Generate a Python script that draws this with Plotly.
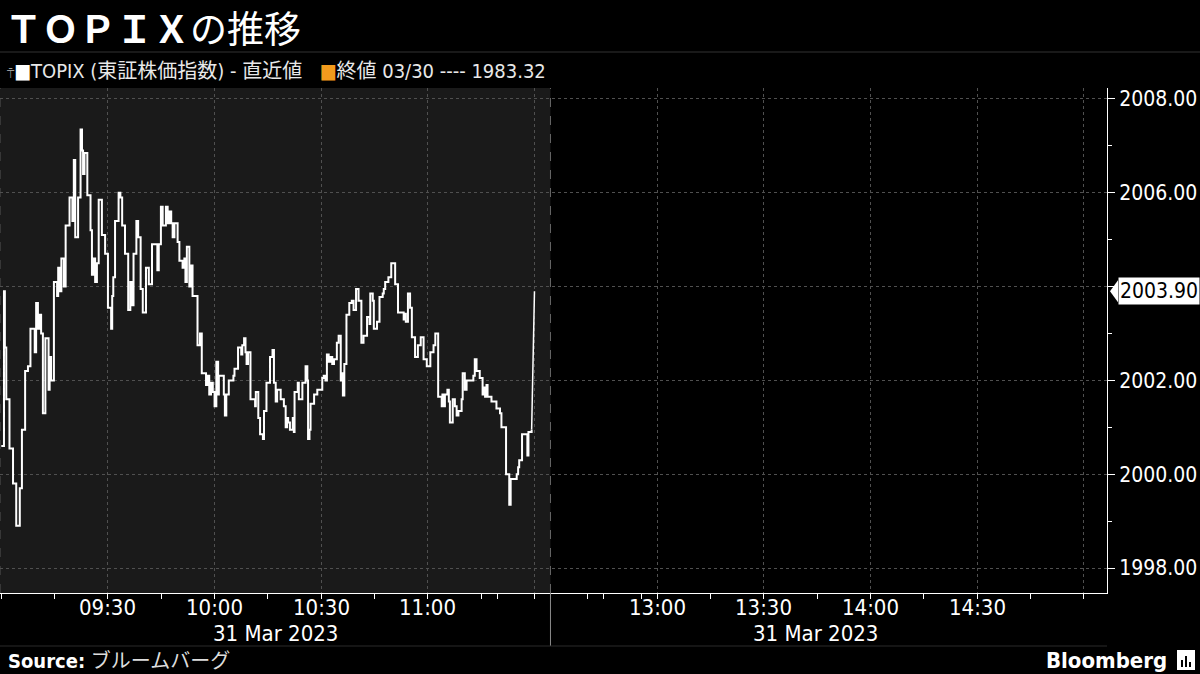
import pandas as pd
import plotly.graph_objects as go

# ---------------- data ----------------
session_date = "2023-03-31"
# minutes after 09:00 where the index changed, and the index level
minutes_after_open = [
    0.0, 0.75, 1.0, 1.4, 2.3, 3.3, 4.2, 5.2, 5.8, 6.7, 7.5, 8.2, 9.4, 9.8, 10.3, 10.8, 11.2, 11.7,
    12.4, 13.3, 13.6, 14.0, 14.8, 15.7, 16.0, 16.4, 16.9, 17.6, 18.1, 19.2, 20.0, 20.4, 20.8, 21.6,
    22.3, 22.7, 23.0, 23.4, 24.2, 25.1, 25.5, 26.0, 26.4, 26.9, 27.4, 28.3, 29.2, 30.0, 30.9,
    31.2, 31.5, 32.0, 33.0, 33.5, 34.0, 34.8, 35.7, 36.3, 36.8, 37.2, 38.0, 38.5, 39.2, 39.8,
    40.7, 41.5, 42.4, 43.9, 44.3, 44.9, 45.4, 46.3, 46.8, 47.3, 47.8, 48.2, 48.7, 49.6, 50.1,
    51.0, 51.5, 51.8, 52.2, 52.9, 53.4, 53.8, 55.2, 55.9, 56.4, 57.6, 58.0, 58.5, 59.0, 59.5,
    60.0, 60.5, 61.0, 61.2, 62.6, 62.9, 63.3, 64.0, 65.3, 65.6, 66.6, 67.5, 67.8, 68.3, 68.7,
    69.0, 69.4, 70.1, 71.4, 71.6, 72.3, 72.8, 73.6, 73.9, 74.6, 75.6, 76.3, 76.7, 77.2, 77.6,
    78.6, 79.5, 80.0, 80.4, 80.7, 81.2, 82.0, 82.3, 82.5, 83.4, 83.7, 84.7, 85.6, 86.1, 86.3,
    86.7, 87.0, 88.0, 88.9, 90.3, 90.7, 91.2, 91.6, 92.1, 92.6, 93.1, 93.6, 94.4, 94.9, 95.5,
    95.8, 96.1, 96.5, 97.1, 97.9, 98.6, 99.1, 99.8, 100.5, 101.3, 101.9, 102.9, 103.6, 103.8,
    104.5, 104.8, 105.7, 106.4, 107.3, 107.6, 108.0, 108.9, 109.7, 110.8, 111.6, 113.2, 113.4,
    113.8, 114.4, 115.0, 115.5, 116.4, 117.2, 118.0, 118.8, 119.7, 120.7, 121.6, 122.1, 122.9,
    123.9, 124.1, 124.5, 124.8, 125.5, 125.9, 126.2, 127.0, 127.6, 128.1, 128.6, 129.5, 129.8,
    130.4, 130.9, 132.8, 133.2, 133.7, 134.6, 135.4, 135.8, 136.1, 136.5, 136.8, 137.9, 139.3,
    140.3, 140.7, 142.0, 142.9, 143.3, 145.0, 145.4, 145.7, 146.5, 148.0, 148.3, 149.2,
]
topix = [
    2000.6, 2003.9, 2002.7, 2001.6, 2000.55, 1999.8, 1998.9, 1999.7, 2000.95, 2002.2, 2002.3, 2003.1,
    2002.6, 2003.65, 2003.1, 2003.4, 2003.0, 2001.3, 2002.9, 2001.8, 2002.5, 2002.0, 2004.1, 2003.8,
    2004.4, 2003.9, 2004.6, 2004.0, 2005.3, 2005.9, 2005.4, 2006.7, 2005.05, 2005.9, 2007.35,
    2006.9, 2006.4, 2006.85, 2005.95, 2005.2, 2004.25, 2004.6, 2004.1, 2004.5, 2005.85, 2005.1,
    2004.7, 2003.55, 2003.1,
    2003.8, 2004.2, 2005.4, 2006.0, 2005.9, 2005.3, 2004.7, 2003.5, 2004.1, 2003.6, 2004.7,
    2005.4, 2005.05, 2003.95, 2003.45, 2004.4, 2004.05, 2004.9, 2004.35, 2004.9, 2005.7, 2005.3,
    2005.7, 2005.35, 2005.6, 2005.35, 2005.05, 2005.35, 2004.95, 2004.55, 2004.4, 2004.6, 2004.1,
    2004.85, 2004.0, 2004.45, 2003.8, 2002.75, 2003.0, 2002.15, 2001.9, 2002.1, 2001.7, 2001.95,
    2001.75, 2001.45, 2002.4, 2001.7, 2002.1, 2001.7, 2001.25, 2001.7, 2002.0, 2002.1, 2002.25,
    2002.7, 2002.55, 2002.75, 2002.9, 2002.6, 2002.35, 2002.6, 2001.6, 2001.45, 2001.75, 2001.2,
    2000.85, 2000.75, 2001.35, 2001.95, 2002.5, 2002.65, 2001.95, 2001.55, 2001.8, 2001.6,
    2001.45, 2001.0, 2001.2, 2001.1, 2000.95, 2001.2, 2000.9, 2001.75, 2001.95, 2001.6, 2001.95,
    2002.3, 2002.0, 2000.75, 2000.95, 2001.5, 2001.7, 2001.8, 2002.05, 2002.1, 2002.0, 2002.55,
    2002.4, 2002.5, 2002.35, 2002.45, 2002.8, 2002.95, 2002.0, 2002.15, 2001.68, 2002.35, 2003.4,
    2003.65, 2003.7, 2003.5, 2003.95, 2003.7, 2002.8, 2002.95, 2003.35, 2003.2, 2003.85, 2003.7,
    2003.1, 2003.25, 2003.78, 2003.85, 2003.95, 2004.1, 2004.2, 2004.5, 2004.05, 2003.45, 2003.3,
    2003.42, 2003.25, 2003.85, 2003.55, 2002.92, 2002.5, 2002.75, 2002.92, 2002.45, 2002.3,
    2002.6, 2002.75, 2003.0, 2001.65, 2001.45, 2001.7, 2001.45, 2001.7, 2001.8, 2001.55, 2001.1,
    2001.6, 2001.45, 2001.25, 2001.35, 2001.6, 2002.15, 2001.8, 2002.0, 2002.1, 2002.45, 2002.2,
    2002.05, 2001.7, 2001.85, 2001.65, 2001.9, 2001.65, 2001.55, 2001.4, 2001.3, 2001.0, 2000.0,
    1999.35, 1999.9, 2000.0, 2000.15, 2000.3, 2000.85, 2000.4, 2000.9, 2000.95,
]
close_time = "11:30"
close_value = 2003.90
prev_close_label = "終値 03/30 ---- 1983.32"
series_label = "TOPIX (東証株価指数) - 直近値"
title_text = "<b>ＴＯＰＩＸ</b>の推移"
y_ticks = [1998, 2000, 2002, 2004, 2006, 2008]
y_tick_labels = ["1998.00", "2000.00", "2002.00", "", "2006.00", "2008.00"]
x_tick_times = ["09:30", "10:00", "10:30", "11:00", "11:30", "13:00", "13:30", "14:00", "14:30", "15:00"]
x_tick_labels = ["09:30", "10:00", "10:30", "11:00", "", "13:00", "13:30", "14:00", "14:30", ""]
date_label = "31 Mar 2023"

# ---------------- build ----------------
base = pd.Timestamp(f"{session_date} 09:00")
xs = base + pd.to_timedelta(minutes_after_open, unit="m")
close_ts = pd.Timestamp(f"{session_date} {close_time}")
morning_end = pd.Timestamp(f"{session_date} 11:34:30")
afternoon_start = pd.Timestamp(f"{session_date} 12:30")
x_start = pd.Timestamp(f"{session_date} 08:59:38")
x_end = pd.Timestamp(f"{session_date} 15:06:34")
gap_ms = (afternoon_start - morning_end).total_seconds() * 1000
tick_ts = [pd.Timestamp(f"{session_date} {t}") for t in x_tick_times]

W, H = 1200, 674
L, R, T, B = 0, 93, 88, 81
PW, PH = W - L - R, H - T - B


def px(xpix):
    return (xpix - L) / PW


def py(ypix):
    return (H - B - ypix) / PH


COND = "DejaVu Sans Condensed, Liberation Sans Narrow, Noto Sans CJK JP, sans-serif"
JP = "Noto Sans CJK JP, sans-serif"

fig = go.Figure()
fig.add_trace(go.Scatter(
    x=xs, y=topix, mode="lines", line=dict(color="#ffffff", width=2, shape="hv"),
    hoverinfo="skip", showlegend=False))
fig.add_trace(go.Scatter(
    x=[xs[-1], close_ts], y=[topix[-1], close_value], mode="lines",
    line=dict(color="#ffffff", width=1.5), hoverinfo="skip", showlegend=False))

shapes = [
    dict(type="rect", xref="x", yref="paper", x0=x_start, x1=morning_end, y0=0, y1=1,
         fillcolor="#1a1a1a", line=dict(width=0), layer="below"),
    dict(type="line", xref="x", yref="paper", x0=morning_end, x1=morning_end, y0=0, y1=1,
         line=dict(color="#666666", width=1, dash="dash"), layer="below"),
    dict(type="line", xref="x", yref="paper", x0=morning_end, x1=morning_end, y0=py(646), y1=0,
         line=dict(color="#8a8a8a", width=1)),
    dict(type="line", xref="x", yref="paper", x0=x_start, x1=x_start, y0=0, y1=1,
         line=dict(color="#555555", width=1, dash="dash"), layer="below"),
    dict(type="line", xref="paper", yref="paper", x0=px(0), x1=px(1200), y0=py(52), y1=py(52),
         line=dict(color="#333333", width=1)),
    dict(type="line", xref="paper", yref="paper", x0=px(0), x1=px(1107), y0=py(646), y1=py(646),
         line=dict(color="#2a2a2a", width=1)),
    dict(type="path", xref="paper", yref="y", xsizemode="pixel", ysizemode="pixel",
         xanchor=1, yanchor=close_value, path="M 3,0 L 11,11 L 11,-11 Z",
         fillcolor="#ffffff", line=dict(width=0)),
    dict(type="rect", xref="paper", yref="paper", x0=px(1177), x1=px(1195), y0=py(670), y1=py(650),
         fillcolor="#ffffff", line=dict(width=0)),
]
for bx, top in [(1181, 660), (1185, 656), (1189, 662)]:
    shapes.append(dict(type="rect", xref="paper", yref="paper", x0=px(bx), x1=px(bx + 2),
                       y0=py(667), y1=py(top), fillcolor="#000000", line=dict(width=0)))

annotations = [
    dict(text=title_text, xref="paper", yref="paper", x=px(3), y=py(27), xanchor="left",
         yanchor="middle", showarrow=False, font=dict(family=JP, size=37, color="#ffffff")),
    dict(text=(f"<span style='color:#9a9a9a;font-size:12px'>⍑</span>"
               f"<span style='color:#ffffff'>■</span>{series_label}   "
               f"<span style='color:#f29b1d'>■</span>{prev_close_label}"),
         xref="paper", yref="paper", x=px(5), y=py(71), xanchor="left", yanchor="middle",
         showarrow=False, font=dict(family=COND, size=20, color="#e8e8e8")),
    dict(text=f"{close_value:.2f}", xref="paper", yref="y", x=1, y=close_value, xanchor="left",
         yanchor="middle", xshift=11, showarrow=False, bgcolor="#ffffff", borderpad=1,
         font=dict(family=COND, size=21, color="#000000")),
    dict(text=date_label, xref="paper", yref="paper", x=px(275), y=py(633), xanchor="center",
         yanchor="middle", showarrow=False, font=dict(family=COND, size=22, color="#ffffff")),
    dict(text=date_label, xref="paper", yref="paper", x=px(815), y=py(633), xanchor="center",
         yanchor="middle", showarrow=False, font=dict(family=COND, size=22, color="#ffffff")),
    dict(text="<b>Source:</b> <span style='color:#dddddd'>ブルームバーグ</span>", xref="paper",
         yref="paper", x=px(6), y=py(661), xanchor="left", yanchor="middle", showarrow=False,
         font=dict(family=COND, size=20, color="#ffffff")),
    dict(text="<b>Bloomberg</b>", xref="paper", yref="paper", x=px(1169), y=py(660),
         xanchor="right", yanchor="middle", showarrow=False,
         font=dict(family=COND, size=22, color="#ffffff")),
]
for t, lab in zip(tick_ts, x_tick_labels):
    if lab:
        annotations.append(dict(text=lab, xref="x", yref="paper", x=t, y=py(607),
                                xanchor="center", yanchor="middle", showarrow=False,
                                font=dict(family=COND, size=22, color="#ffffff")))

fig.update_layout(
    width=W, height=H, margin=dict(l=L, r=R, t=T, b=B),
    paper_bgcolor="#000000", plot_bgcolor="#000000",
    shapes=shapes, annotations=annotations, showlegend=False,
    xaxis=dict(
        type="date", range=[x_start, x_end],
        rangebreaks=[dict(values=[morning_end], dvalue=gap_ms)],
        tickvals=tick_ts, ticktext=[""] * len(tick_ts),
        showgrid=True, gridcolor="#505050", griddash="dot", gridwidth=1,
        showline=True, linecolor="#ffffff", linewidth=1,
        ticks="outside", ticklen=5, tickcolor="#ffffff",
        minor=dict(dtick=15 * 60 * 1000, tick0=base, ticks="outside", ticklen=5,
                   tickcolor="#ffffff", showgrid=False),
        zeroline=False, fixedrange=True,
    ),
    yaxis=dict(
        side="right", range=[1997.467, 2008.234], tickvals=y_ticks, ticktext=y_tick_labels,
        showgrid=True, gridcolor="#505050", griddash="dot", gridwidth=1,
        showline=True, linecolor="#ffffff", linewidth=1,
        ticks="outside", ticklen=7, tickcolor="#ffffff",
        minor=dict(dtick=1, ticks="outside", ticklen=4, tickcolor="#ffffff", showgrid=False),
        tickfont=dict(family=COND, size=21, color="#ffffff"),
        zeroline=False, fixedrange=True,
    ),
)

fig.write_html(
    "out.html",
    config={"displayModeBar": False},
    post_script="document.body.style.margin='0';document.body.style.background='#000000';",
)
